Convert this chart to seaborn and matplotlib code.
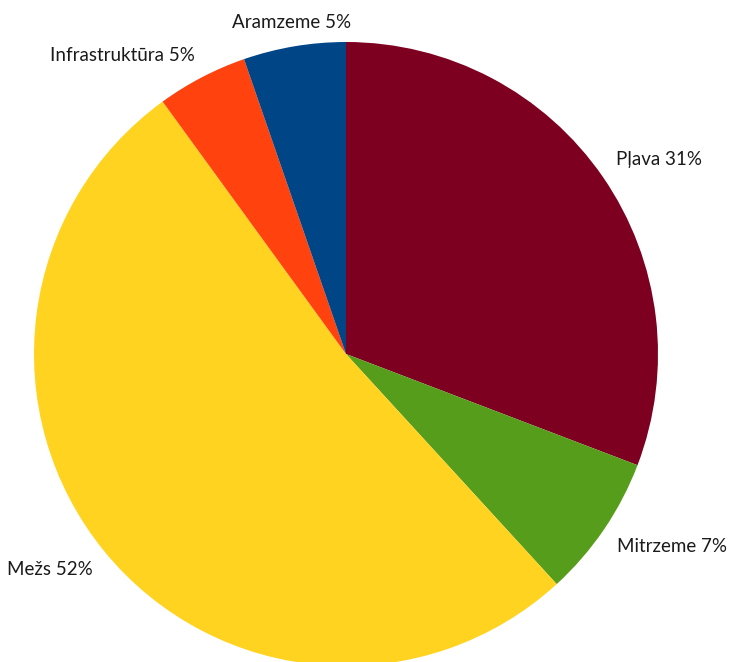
import numpy as np
import matplotlib
matplotlib.use("Agg")
import matplotlib.pyplot as plt
import seaborn as sns

# Land use shares (clockwise from top)
categories = ["Pļava", "Mitrzeme", "Mežs", "Infrastruktūra", "Aramzeme"]
shares = [30.8, 7.4, 51.8, 4.7, 5.3]
pct_labels = ["31%", "7%", "52%", "5%", "5%"]
colors = ["#7E0021", "#579D1C", "#FFD320", "#FF420E", "#004586"]

sns.set_style("white")
plt.rcParams['font.family'] = ['Lato', 'DejaVu Sans']

W, H = 730, 662
cx, cy, r = 346, 354, 312
fig = plt.figure(figsize=(W / 100, H / 100), dpi=100)
ax = fig.add_axes([(cx - r) / W, (H - cy - r) / H, 2 * r / W, 2 * r / H])

wedges, _ = ax.pie(
    shares,
    colors=colors,
    startangle=90,
    counterclock=False,
    radius=1.0,
    wedgeprops={'linewidth': 0},
)

# labels sit just outside each wedge, box corner touching the rim
for w, c, p in zip(wedges, categories, pct_labels):
    ang = np.deg2rad((w.theta1 + w.theta2) / 2)
    x, y = np.cos(ang), np.sin(ang)
    if abs(x) < 0.2:
        ha = 'center'
    else:
        ha = 'left' if x > 0 else 'right'
    va = 'bottom' if y > 0 else 'top'
    ax.text(1.05 * x, 1.05 * y, f"{c} {p}", ha=ha, va=va,
            fontsize=13.5, color='#1a1a1a')

ax.set_xlim(-1, 1)
ax.set_ylim(-1, 1)
ax.set_aspect('equal')
ax.axis('off')

fig.savefig("out.png", dpi=100)
